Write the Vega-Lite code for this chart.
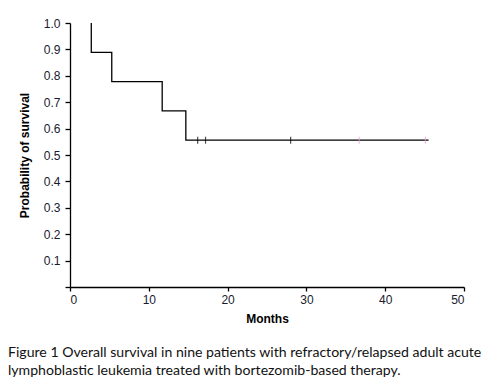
{
  "$schema": "https://vega.github.io/schema/vega-lite/v6.json",
  "width": 394,
  "height": 264,
  "autosize": {"type": "none"},
  "padding": {"left": 70, "top": 23, "right": 20, "bottom": 98},
  "background": "white",
  "config": {
    "view": {"stroke": null},
    "axis": {"grid": false, "domainColor": "black", "tickColor": "black", "labelColor": "#1a1a2e", "labelFont": "Liberation Sans", "labelFontSize": 12, "titleFont": "Liberation Sans", "titleFontSize": 12, "titleFontWeight": "bold", "titleColor": "black", "domainWidth": 1.3, "tickWidth": 1.3, "labelOverlap": false}
  },
  "title": {
    "text": ["Figure 1 Overall survival in nine patients with refractory/relapsed adult acute", "lymphoblastic leukemia treated with bortezomib-based therapy."],
    "orient": "bottom",
    "anchor": "start",
    "frame": "group",
    "dx": -62,
    "offset": 22,
    "font": "Lato",
    "fontSize": 14.1,
    "fontWeight": "normal",
    "color": "#111",
    "lineHeight": 18
  },
  "datasets": {
    "km": [
      {"months": 2.7, "survival": 1.0},
      {"months": 2.7, "survival": 0.889},
      {"months": 5.3, "survival": 0.778},
      {"months": 11.7, "survival": 0.667},
      {"months": 14.7, "survival": 0.556},
      {"months": 45.5, "survival": 0.556}
    ],
    "censored": [
      {"months": 16.2, "survival": 0.556, "group": "a"},
      {"months": 17.2, "survival": 0.556, "group": "a"},
      {"months": 28.0, "survival": 0.556, "group": "a"},
      {"months": 36.7, "survival": 0.556, "group": "b"},
      {"months": 45.1, "survival": 0.556, "group": "b"}
    ]
  },
  "encoding": {
    "x": {"field": "months", "type": "quantitative", "scale": {"domain": [0, 50], "nice": false}, "axis": {"title": "Months", "values": [0, 10, 20, 30, 40, 50], "tickSize": 4, "labelPadding": 3, "titlePadding": 8}},
    "y": {"field": "survival", "type": "quantitative", "scale": {"domain": [0, 1], "nice": false}, "axis": {"title": "Probability of survival", "values": [0, 0.1, 0.2, 0.3, 0.4, 0.5, 0.6, 0.7, 0.8, 0.9, 1.0], "labelExpr": "datum.value == 0 ? '' : format(datum.value, '.1f')", "tickSize": 5, "labelPadding": 5, "titlePadding": 12}}
  },
  "layer": [
    {
      "data": {"name": "km"},
      "mark": {"type": "line", "interpolate": "step-after", "color": "black", "strokeWidth": 1.3}
    },
    {
      "data": {"name": "censored"},
      "mark": {"type": "tick", "orient": "vertical", "size": 7, "thickness": 1.2},
      "encoding": {
        "color": {"field": "group", "type": "nominal", "scale": {"domain": ["a", "b"], "range": ["black", "#e89ee0"]}, "legend": null}
      }
    }
  ]
}
